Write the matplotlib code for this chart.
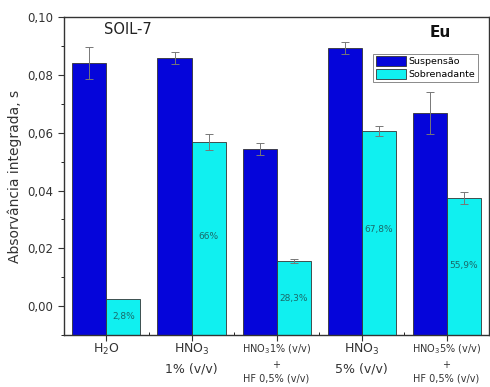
import matplotlib
matplotlib.use("Agg")
import matplotlib.pyplot as plt
import numpy as np
from matplotlib.ticker import MultipleLocator, FixedLocator, FuncFormatter

categories = ["H$_2$O",
              "HNO$_3$\n1% (v/v)",
              "HNO$_3$1% (v/v)\n+\nHF 0,5% (v/v)",
              "HNO$_3$\n5% (v/v)",
              "HNO$_3$5% (v/v)\n+\nHF 0,5% (v/v)"]
suspensao = [0.0841, 0.0858, 0.0543, 0.0893, 0.0668]
suspensao_err = [0.0055, 0.0021, 0.0021, 0.0021, 0.0072]
sobrenadante = [0.0024, 0.0567, 0.0156, 0.0606, 0.0374]
sobrenadante_err = [0.0, 0.0028, 0.0007, 0.0018, 0.0021]
percent = ["2,8%", "66%", "28,3%", "67,8%", "55,9%"]
percent_y = [-0.0035, 0.0240, 0.0025, 0.0265, 0.0140]

base = -0.01
x = np.arange(1, len(categories) + 1)
w = 0.4

fig = plt.figure(figsize=(4.9, 3.87), dpi=100)
ax = fig.add_axes([0.1306, 0.134, 0.8674, 0.822])

ax.bar(x - w / 2, np.array(suspensao) - base, w, bottom=base, color="#0505da",
       edgecolor="#333333", linewidth=0.6, label="Suspensão",
       yerr=suspensao_err, error_kw=dict(ecolor="#777777", elinewidth=0.7, capsize=3, capthick=0.7))
ax.bar(x + w / 2, np.array(sobrenadante) - base, w, bottom=base, color="#10f0f0",
       edgecolor="#333333", linewidth=0.6, label="Sobrenadante",
       yerr=[e if e > 0 else np.nan for e in sobrenadante_err],
       error_kw=dict(ecolor="#777777", elinewidth=0.7, capsize=3, capthick=0.7))

for xi, t, yy in zip(x, percent, percent_y):
    ax.text(xi + w / 2, yy, t, ha="center", va="center", fontsize=6.5, color="#1a6a6a")

ax.set_xlim(0.5, 5.5)
ax.set_ylim(-0.01, 0.10)
ax.yaxis.set_major_locator(MultipleLocator(0.02))
ax.yaxis.set_minor_locator(MultipleLocator(0.01))
ax.yaxis.set_major_formatter(FuncFormatter(lambda v, p: f"{v:.2f}".replace(".", ",")))
ax.set_xticks(x)
ax.xaxis.set_minor_locator(FixedLocator(x[:-1] + 0.5))
ax.set_xticklabels([])
for xi, c in zip(x, categories):
    fs = 7 if "+" in c else 9
    ax.text(xi, -0.0125, c, ha="center", va="top", fontsize=fs, color="#333333",
            linespacing=1.5, transform=ax.transData)

ax.tick_params(axis="both", which="major", direction="out", length=4, labelsize=8.5, colors="#333333")
ax.tick_params(axis="y", which="minor", direction="out", length=2.5)
ax.tick_params(axis="x", which="minor", direction="in", length=2.5)
for s in ax.spines.values():
    s.set_color("#333333")
    s.set_linewidth(1.0)

ax.set_ylabel("Absorvância integrada, s", fontsize=10, color="#333333")

ax.text(0.97, 0.0958, "SOIL-7", fontsize=10.5, ha="left", va="center", color="#222222")
ax.text(4.93, 0.0945, "Eu", fontsize=11, fontweight="bold", ha="center", va="center", color="#111111")

leg = ax.legend(loc="upper right", bbox_to_anchor=(0.975, 0.885), fontsize=6.8,
                frameon=True, fancybox=False, edgecolor="#555555", borderpad=0.3,
                handlelength=3.2, handleheight=1.2, handletextpad=0.3, labelspacing=0.25,
                borderaxespad=0)
leg.get_frame().set_linewidth(0.6)

fig.savefig("out.png", dpi=100)
